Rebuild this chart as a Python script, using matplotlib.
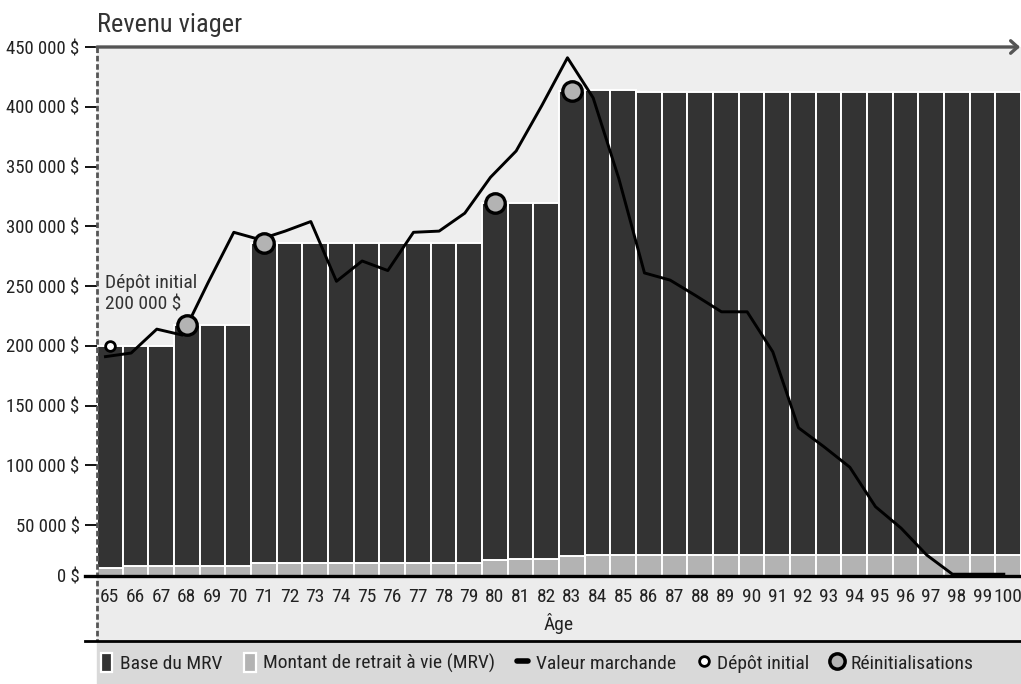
import matplotlib
matplotlib.use("Agg")
import matplotlib.pyplot as plt
from matplotlib import font_manager
from matplotlib.patches import Rectangle, Patch
from matplotlib.lines import Line2D
import numpy as np

# pick a narrow font if one is installed
available = {f.name for f in font_manager.fontManager.ttflist}
FONT = "Liberation Sans"
for cand in ["Liberation Sans Narrow", "DejaVu Sans Condensed", "Roboto Condensed", "Open Sans Condensed"]:
	if cand in available:
		FONT = cand
		break
plt.rcParams['font.family'] = [FONT, 'DejaVu Sans']

# data
ages = list(range(65, 101))
base_mrv = [200000]*3 + [217500]*3 + [286000]*9 + [319500]*3 + [413000, 414000, 414000] + [412500]*15
mrv = [14000] + [16000]*5 + [18500]*9 + [21000, 22000, 22000] + [24500] + [25000]*17
market = [191000, 194000, 214000, 209000, 253000, 295000, 289000, 296000, 304000, 254000,
	271000, 263000, 295000, 296000, 311000, 341000, 363000, 401000, 441000, 407500,
	340000, 261000, 255000, 242000, 228500, 228500, 195000, 131500, 115500, 98500,
	65500, 47500, 25000, 9000, 9000, 9000]
reset_ages = [68, 71, 80, 83]
deposit_age = 65
deposit = 200000
ytick_values = list(range(0, 450001, 50000))
y_floor = 7500

labels_legend = ["Base du MRV", "Montant de retrait à vie (MRV)", "Valeur marchande",
	"Dépôt initial", "Réinitialisations"]

DARK = '#333333'
LIGHT = '#b3b3b3'

W, H = 1021, 684
fig = plt.figure(figsize=(W/100, H/100), dpi=100)

def fx(px):
	return px/W

def fy(py):
	return 1 - py/H

# background bands
fig.add_artist(Rectangle((fx(97), fy(641)), fx(1021)-fx(97), fy(576)-fy(641),
	transform=fig.transFigure, color='#ececec', zorder=0))
fig.add_artist(Rectangle((fx(97), 0), fx(1021)-fx(97), fy(641),
	transform=fig.transFigure, color='#d9d9d9', zorder=0))

ax = fig.add_axes([fx(97), fy(576), fx(1021)-fx(97), fy(47)-fy(576)])
ax.set_facecolor('#eeeeee')

base_arr = np.array(base_mrv)
mrv_arr = np.array(mrv)
ax.bar(ages, mrv_arr, width=1.0, color=LIGHT, edgecolor='white', linewidth=1.4, zorder=2)
ax.bar(ages, base_arr - mrv_arr, bottom=mrv_arr, width=1.0, color=DARK,
	edgecolor='white', linewidth=1.4, zorder=2)

ax.plot(np.array(ages) - 0.17, market, color='black', lw=2.1, zorder=3)

reset_vals = [base_mrv[a - ages[0]] for a in reset_ages]
ax.plot(reset_ages, reset_vals, 'o', ms=14, mfc=LIGHT, mec='black', mew=2.4, zorder=4)
ax.plot([deposit_age], [deposit], 'o', ms=7, mfc='white', mec='black', mew=2.0, zorder=4)

ax.text(64.8, 243500, "Dépôt initial\n200 000 $", fontsize=14, color='#333333',
	va='center', ha='left', linespacing=1.3, zorder=5)

ax.set_xlim(64.5, 100.5)
ax.set_ylim(y_floor, 450000)
for s in ax.spines.values():
	s.set_visible(False)

ax.set_yticks([max(v, y_floor) for v in ytick_values])
ax.set_yticklabels([f"{v:,}".replace(',', ' ') + " $" for v in ytick_values])
ax.set_xticks(ages)
ax.set_xticklabels([str(a) for a in ages])
ax.tick_params(axis='y', direction='out', length=8.6, width=1.3, pad=4, labelsize=13.5,
	labelcolor='#222222')
ax.tick_params(axis='x', length=0, pad=9, labelsize=14, labelcolor='#222222')

# top arrow
ax.annotate('', xy=(0.999, 1.0), xycoords='axes fraction', xytext=(0, 1.0),
	arrowprops=dict(arrowstyle='->,head_length=0.5,head_width=0.45', color='#555555',
	lw=2.4, shrinkA=0, shrinkB=0), annotation_clip=False)

# axis lines
fig.add_artist(Line2D([fx(97), fx(97)], [fy(47), fy(641)], color='#555555', lw=2.0,
	linestyle=(0, (2, 1)), transform=fig.transFigure, zorder=6))
fig.add_artist(Line2D([fx(85), 1], [fy(576), fy(576)], color='black', lw=2.4,
	transform=fig.transFigure, zorder=6))
fig.add_artist(Line2D([fx(85), 1], [fy(641), fy(641)], color='black', lw=2.0,
	transform=fig.transFigure, zorder=6))

fig.text(fx(97), fy(25), "Revenu viager", fontsize=19, color='#333333', ha='left', va='center')
fig.text(fx(559), fy(623), "Âge", fontsize=14, color='#222222', ha='center', va='center')

handles = [
	Patch(facecolor=DARK, edgecolor='white', linewidth=1.6),
	Patch(facecolor=LIGHT, edgecolor='white', linewidth=1.6),
	Line2D([], [], color='black', lw=4, solid_capstyle='round'),
	Line2D([], [], marker='o', ls='', ms=7, mfc='white', mec='black', mew=2),
	Line2D([], [], marker='o', ls='', ms=11, mfc=LIGHT, mec='black', mew=2.5),
]
leg = fig.legend(handles, labels_legend, loc='center', bbox_to_anchor=(fx(537), fy(663)),
	ncol=5, frameon=False, fontsize=14, handlelength=0.6, handleheight=1.1,
	handletextpad=0.4, columnspacing=1.1)
for t in leg.get_texts():
	t.set_color('#222222')

fig.savefig("out.png", dpi=100)
